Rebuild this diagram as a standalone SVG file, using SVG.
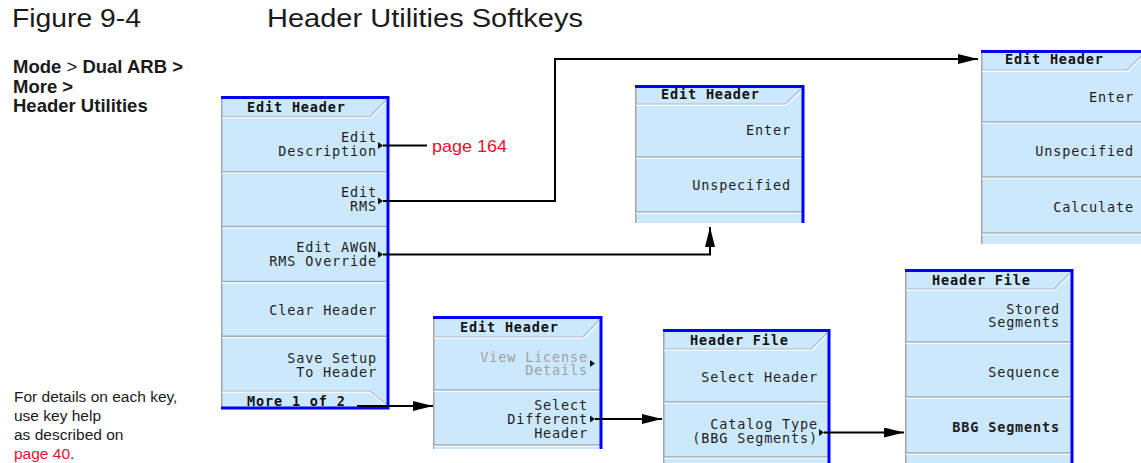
<svg xmlns="http://www.w3.org/2000/svg" width="1141" height="463" viewBox="0 0 1141 463">
<defs>
<marker id="ah" markerUnits="userSpaceOnUse" markerWidth="20" markerHeight="10" refX="20" refY="5" orient="auto">
<path d="M0,0 L20,5 L0,10 z" fill="#000"/>
</marker>
</defs>
<style>
.bg{fill:#cce8fc}
.sep{stroke:#a3abb3;stroke-width:1.5}
.hl{stroke:#f4faff;stroke-width:1.2;fill:none}
.bev{stroke:#b3bcc5;stroke-width:1.2;fill:none}
.edge{stroke:#a3a3a3;stroke-width:1.5}
.blue{stroke:#0000ff;stroke-width:3;fill:none}
.k{font-family:"DejaVu Sans Mono",monospace;font-size:13.5px;letter-spacing:0.85px;fill:#1e1e1e;text-anchor:end}
.t{font-family:"DejaVu Sans Mono",monospace;font-size:13.5px;font-weight:bold;letter-spacing:0.85px;fill:#111}
.b{font-weight:bold}
.dim{fill:#a0a0a0}
.mk{fill:#111}
.conn{stroke:#000;stroke-width:2;fill:none}
.sans{font-family:"Liberation Sans",Arial,sans-serif;fill:#1a1a1a}
.red{fill:#e8112d}
</style>

<!-- headings and notes -->
<g id="heading">
<text class="sans" x="12" y="27" font-size="25" textLength="129" lengthAdjust="spacingAndGlyphs">Figure 9-4</text>
<text class="sans" x="267" y="27" font-size="25" textLength="316" lengthAdjust="spacingAndGlyphs">Header Utilities Softkeys</text>
</g>
<g id="path-note">
<text class="sans b" x="13" y="73" font-size="18.5">Mode <tspan font-weight="normal">&gt;</tspan> Dual ARB &gt;</text>
<text class="sans b" x="13" y="93" font-size="18.5">More &gt;</text>
<text class="sans b" x="13" y="112" font-size="18.5">Header Utilities</text>
</g>
<g id="help-note">
<text class="sans" x="14" y="402" font-size="15.5">For details on each key,</text>
<text class="sans" x="14" y="421" font-size="15.5">use key help</text>
<text class="sans" x="14" y="440" font-size="15.5">as described on</text>
<text class="sans" x="14" y="459" font-size="15.5"><tspan class="red">page 40</tspan>.</text>
</g>

<!-- Menu 1: Edit Header (main) -->
<g id="menu-edit-header-main">
<rect class="bg" x="221" y="97" width="167" height="312"/>
<line class="edge" x1="221.8" y1="97" x2="221.8" y2="409"/>
<polyline class="bev" points="222,116.5 370,116.5 386,100"/>
<polyline class="hl" points="222,117.8 371,117.8 387,101.5"/>
<line class="sep" x1="222" y1="171.8" x2="387" y2="171.8"/><line class="hl" x1="222" y1="173.2" x2="387" y2="173.2"/>
<line class="sep" x1="222" y1="226.6" x2="387" y2="226.6"/><line class="hl" x1="222" y1="228" x2="387" y2="228"/>
<line class="sep" x1="222" y1="281.4" x2="387" y2="281.4"/><line class="hl" x1="222" y1="282.8" x2="387" y2="282.8"/>
<line class="sep" x1="222" y1="336.2" x2="387" y2="336.2"/><line class="hl" x1="222" y1="337.6" x2="387" y2="337.6"/>
<polyline class="bev" points="222,391 370,391 386,404"/>
<polyline class="hl" points="222,392.4 369.5,392.4 385,405"/>
<path class="blue" d="M221,97.5 H388 V408 H221"/>
<text class="t" x="247" y="112">Edit Header</text>
<text class="k" x="377" y="142">Edit</text>
<text class="k" x="377" y="155.5">Description</text>
<path class="mk" d="M378,142 L383,145.5 L378,149 z"/>
<text class="k" x="377" y="197">Edit</text>
<text class="k" x="377" y="211">RMS</text>
<path class="mk" d="M378,197.5 L383,201 L378,204.5 z"/>
<text class="k" x="377" y="252">Edit AWGN</text>
<text class="k" x="377" y="266">RMS Override</text>
<path class="mk" d="M378,251 L383,254.5 L378,258 z"/>
<text class="k" x="377" y="315">Clear Header</text>
<text class="k" x="377" y="363">Save Setup</text>
<text class="k" x="377" y="377">To Header</text>
<text class="t" x="247" y="406">More 1 of 2</text>
</g>

<!-- Menu 2: Edit Header (AWGN RMS override) -->
<g id="menu-edit-header-awgn">
<rect class="bg" x="635" y="86" width="168" height="137"/>
<line class="edge" x1="635.8" y1="86" x2="635.8" y2="223"/>
<polyline class="bev" points="636,104 785,104 801,89"/>
<polyline class="hl" points="636,105.4 786,105.4 802,90.5"/>
<line class="sep" x1="636" y1="157" x2="802" y2="157"/><line class="hl" x1="636" y1="158.4" x2="802" y2="158.4"/>
<line class="sep" x1="636" y1="212" x2="802" y2="212"/><line class="hl" x1="636" y1="213.4" x2="802" y2="213.4"/>
<path class="blue" d="M635,86.5 H803 V223"/>
<text class="t" x="661" y="99">Edit Header</text>
<text class="k" x="791" y="135">Enter</text>
<text class="k" x="791" y="190">Unspecified</text>
</g>

<!-- Menu 3: Edit Header (RMS) -->
<g id="menu-edit-header-rms">
<rect class="bg" x="981" y="51" width="166" height="193"/>
<line class="edge" x1="981.8" y1="51" x2="981.8" y2="244"/>
<polyline class="bev" points="982,70 1127,70 1143,54"/>
<polyline class="hl" points="982,71.4 1128,71.4 1144,55.5"/>
<line class="sep" x1="982" y1="122" x2="1141" y2="122"/><line class="hl" x1="982" y1="123.4" x2="1141" y2="123.4"/>
<line class="sep" x1="982" y1="177" x2="1141" y2="177"/><line class="hl" x1="982" y1="178.4" x2="1141" y2="178.4"/>
<line class="sep" x1="982" y1="233" x2="1141" y2="233"/><line class="hl" x1="982" y1="234.4" x2="1141" y2="234.4"/>
<path class="blue" d="M981,51.5 H1147"/>
<text class="t" x="1005" y="64">Edit Header</text>
<text class="k" x="1134" y="101.5">Enter</text>
<text class="k" x="1134" y="156">Unspecified</text>
<text class="k" x="1134" y="211.5">Calculate</text>
</g>

<!-- Menu 4: Edit Header (page 2) -->
<g id="menu-edit-header-more">
<rect class="bg" x="433" y="317" width="168" height="132"/>
<line class="edge" x1="433.8" y1="317" x2="433.8" y2="449"/>
<polyline class="bev" points="434,337 583,337 599,320"/>
<polyline class="hl" points="434,338.4 584,338.4 600,321.5"/>
<line class="sep" x1="434" y1="390" x2="600" y2="390"/><line class="hl" x1="434" y1="391.4" x2="600" y2="391.4"/>
<line class="sep" x1="434" y1="445" x2="600" y2="445"/><line class="hl" x1="434" y1="446.4" x2="600" y2="446.4"/>
<path class="blue" d="M433,317.5 H601 V449"/>
<text class="t" x="460" y="332">Edit Header</text>
<text class="k dim" x="588" y="361.5">View License</text>
<text class="k dim" x="588" y="375">Details</text>
<path class="mk dim" d="M590,360 L595,363.5 L590,367 z"/>
<text class="k" x="588" y="410">Select</text>
<text class="k" x="588" y="423.5">Different</text>
<text class="k" x="588" y="437.5">Header</text>
<path class="mk" d="M590,415.5 L595,419 L590,422.5 z"/>
</g>

<!-- Menu 5: Header File (select) -->
<g id="menu-header-file-select">
<rect class="bg" x="663" y="330" width="166" height="133"/>
<line class="edge" x1="663.8" y1="330" x2="663.8" y2="463"/>
<polyline class="bev" points="664,349 811,349 827,333"/>
<polyline class="hl" points="664,350.4 812,350.4 828,334.5"/>
<line class="sep" x1="664" y1="402" x2="828" y2="402"/><line class="hl" x1="664" y1="403.4" x2="828" y2="403.4"/>
<line class="sep" x1="664" y1="457" x2="828" y2="457"/><line class="hl" x1="664" y1="458.4" x2="828" y2="458.4"/>
<path class="blue" d="M663,330.5 H829 V463"/>
<text class="t" x="690" y="344.5">Header File</text>
<text class="k" x="818" y="381.5">Select Header</text>
<text class="k" x="818" y="429">Catalog Type</text>
<text class="k" x="818" y="442.5">(BBG Segments)</text>
<path class="mk" d="M819,429 L824,432.5 L819,436 z"/>
</g>

<!-- Menu 6: Header File (catalog type) -->
<g id="menu-header-file-catalog">
<rect class="bg" x="905" y="270" width="167" height="193"/>
<line class="edge" x1="905.8" y1="270" x2="905.8" y2="463"/>
<polyline class="bev" points="906,289 1054,289 1070,273"/>
<polyline class="hl" points="906,290.4 1055,290.4 1071,274.5"/>
<line class="sep" x1="906" y1="342" x2="1071" y2="342"/><line class="hl" x1="906" y1="343.4" x2="1071" y2="343.4"/>
<line class="sep" x1="906" y1="397" x2="1071" y2="397"/><line class="hl" x1="906" y1="398.4" x2="1071" y2="398.4"/>
<line class="sep" x1="906" y1="453" x2="1071" y2="453"/><line class="hl" x1="906" y1="454.4" x2="1071" y2="454.4"/>
<path class="blue" d="M905,270.5 H1072 V463"/>
<text class="t" x="932" y="284.5">Header File</text>
<text class="k" x="1060" y="314">Stored</text>
<text class="k" x="1060" y="327">Segments</text>
<text class="k" x="1060" y="377">Sequence</text>
<text class="k b" x="1060" y="431.5">BBG Segments</text>
</g>

<!-- page reference -->
<g id="page-ref-164">
<text class="sans red" x="432" y="152" font-size="17" textLength="75" lengthAdjust="spacingAndGlyphs">page 164</text>
</g>

<!-- connectors -->
<g id="connectors">
<path class="conn" d="M383,145.5 H427"/>
<path class="conn" d="M383,201 H555 V59 H978" marker-end="url(#ah)"/>
<path class="conn" d="M383,254.5 H710 V227" marker-end="url(#ah)"/>
<path class="conn" d="M357,406 H433" marker-end="url(#ah)"/>
<path class="conn" d="M595,419 H662" marker-end="url(#ah)"/>
<path class="conn" d="M824,432.5 H904" marker-end="url(#ah)"/>
</g>
</svg>
